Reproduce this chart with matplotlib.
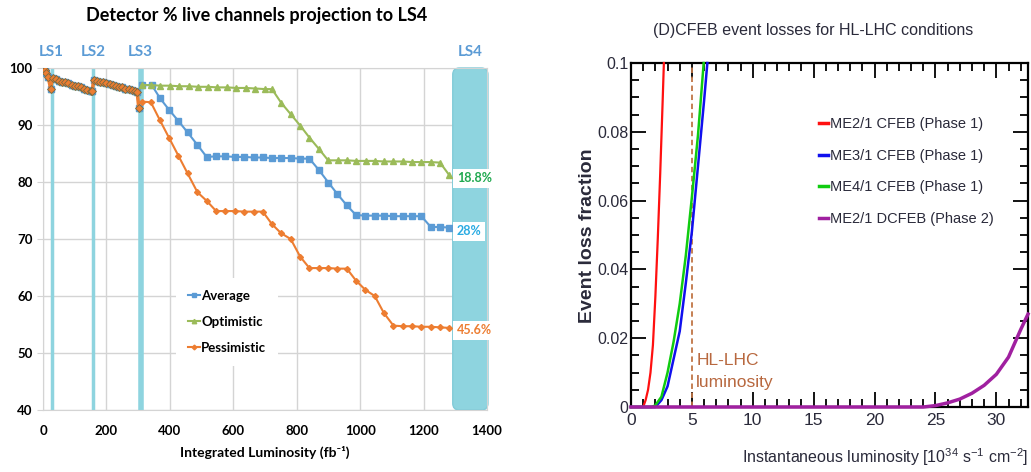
import numpy as np
import matplotlib
matplotlib.use('Agg')
from matplotlib import pyplot as plt
from matplotlib.lines import Line2D
from matplotlib.patches import FancyBboxPatch

plt.rcParams['font.family'] = ['Lato', 'DejaVu Sans']
plt.rcParams['mathtext.fontset'] = 'custom'
plt.rcParams['mathtext.rm'] = 'Liberation Sans'
plt.rcParams['mathtext.it'] = 'Liberation Sans'
narrow = ['DejaVu Sans Condensed', 'Liberation Sans', 'DejaVu Sans']

# ---- left panel: % live channels vs integrated luminosity ----
# shared history up to LS3 (all three projections identical)
pre_x = [0, 5, 10, 16, 24, 30, 40, 50, 60, 70, 80, 90, 100, 110, 120, 130, 140, 150, 155,
         160, 170, 180, 190, 200, 210, 220, 230, 240, 250, 260, 270, 280, 290, 297, 302]
pre_y = [100, 99.6, 99.1, 98.5, 96.4, 98.2, 98.0, 97.8, 97.6, 97.5, 97.3, 97.1, 96.9, 96.8, 96.6, 96.4, 96.2, 96.0, 95.9,
         97.9, 97.8, 97.6, 97.5, 97.3, 97.2, 97.0, 96.9, 96.7, 96.6, 96.4, 96.3, 96.1, 95.9, 95.8, 93.0]

avg_x = [311, 343, 369, 397, 427, 456, 487, 516, 546, 575, 606, 635, 664, 693, 722, 751, 781, 811, 840,
         870, 900, 928, 958, 987, 1016, 1046, 1075, 1105, 1134, 1164, 1193, 1223, 1252, 1281]
avg_y = [97.0, 97.0, 94.7, 92.7, 90.7, 88.7, 86.5, 84.4, 84.5, 84.5, 84.4, 84.4, 84.3, 84.3, 84.2, 84.2, 84.2, 84.1, 84.1,
         82.1, 79.9, 77.9, 75.9, 74.2, 74.1, 74.1, 74.1, 74.0, 74.0, 74.0, 74.0, 72.1, 72.1, 72.0]

opt_x = [311, 340, 370, 400, 430, 460, 490, 520, 550, 580, 610, 640, 670, 700, 722, 751, 781, 811, 840,
         870, 899, 930, 959, 988, 1017, 1046, 1075, 1105, 1134, 1163, 1193, 1222, 1252, 1281]
opt_y = [97.0, 97.0, 96.9, 96.9, 96.8, 96.8, 96.7, 96.7, 96.6, 96.6, 96.5, 96.5, 96.4, 96.3, 96.3, 93.9, 91.9, 89.9, 87.8,
         85.8, 83.8, 83.8, 83.8, 83.7, 83.7, 83.7, 83.6, 83.6, 83.6, 83.5, 83.5, 83.5, 83.4, 81.2]

pes_x = [311, 340, 369, 397, 427, 456, 487, 516, 546, 575, 606, 635, 664, 693, 722, 751, 781, 811, 840,
         870, 900, 928, 958, 987, 1016, 1046, 1075, 1105, 1134, 1164, 1193, 1223, 1252, 1281]
pes_y = [94.1, 94.0, 90.8, 87.8, 84.6, 81.5, 78.2, 76.7, 74.9, 74.9, 74.9, 74.8, 74.8, 74.8, 72.6, 71.0, 70.0, 66.9, 64.9,
         64.9, 64.9, 64.8, 64.8, 62.7, 61.1, 60.0, 57.0, 54.8, 54.7, 54.7, 54.6, 54.6, 54.5, 54.4]

ls_pos = [27, 158, 308]
ls_names = ['LS1', 'LS2', 'LS3']
ls4_range = [1292, 1403]
loss_labels = ['18.8%', '28%', '45.6%']
loss_label_y = [80.7, 71.4, 54.0]

# ---- right panel: event loss fraction vs instantaneous luminosity ----
red_x = [0, 1.0, 1.2, 1.4, 1.6, 1.8, 2.0, 2.2, 2.4, 2.6, 2.7]
red_y = [0, 0, 0.002, 0.005, 0.010, 0.018, 0.032, 0.049, 0.068, 0.089, 0.1]
blue_x = [0, 2.0, 2.5, 3.0, 3.5, 4.0, 4.5, 5.0, 5.5, 6.0, 6.27]
blue_y = [0, 0, 0.002, 0.006, 0.014, 0.022, 0.036, 0.051, 0.070, 0.089, 0.1]
green_x = [0, 1.7, 2.0, 2.5, 3.0, 3.5, 4.0, 4.5, 5.0, 5.5, 5.97]
green_y = [0, 0, 0.0005, 0.003, 0.010, 0.019, 0.030, 0.044, 0.061, 0.079, 0.1]
purple_x = [0, 24, 25, 26, 27, 28, 29, 30, 31, 32, 32.6]
purple_y = [0, 0, 0.0004, 0.0012, 0.0023, 0.0040, 0.0063, 0.0095, 0.0145, 0.0225, 0.027]
hl_lumi = 5

fig = plt.figure(figsize=(10.31, 4.72), dpi=100)

# ================= left =================
ax = fig.add_axes([43/1031, 62/472, 444/1031, 342/472])
ax.set_xlim(0, 1400)
ax.set_ylim(40, 100)
ax.set_xticks(np.arange(0, 1401, 200))
ax.set_yticks(np.arange(40, 101, 10))
ax.grid(True, color='#d4d4d4', lw=1)
ax.set_axisbelow(True)
for s in ax.spines.values():
    s.set_color('#d4d4d4')
ax.tick_params(axis='both', colors='#d4d4d4', labelcolor='black', labelsize=9.5, length=4)
ax.tick_params(axis='x', length=0, pad=11)
for lab in ax.get_xticklabels() + ax.get_yticklabels():
    lab.set_fontweight('bold')

cyan = '#8ed4df'
for i, xp in enumerate(ls_pos):
    ax.axvline(xp, color=cyan, lw=2.5 if i < 2 else 4, zorder=2)
    ax.text(xp, 101.6, ls_names[i], color='#5b9bd5', fontsize=11, fontweight='bold',
            ha='center', va='bottom')
x0 = (ls4_range[0]) / 1400
w4 = (ls4_range[1] - ls4_range[0]) / 1400
ax.add_patch(FancyBboxPatch((x0, 0), w4, 1.0, boxstyle='round,pad=0,rounding_size=0.015',
                            mutation_aspect=1.3, transform=ax.transAxes, clip_on=False,
                            fc=cyan, ec='#82cbd8', lw=1, zorder=2))
ax.text((ls4_range[0] + ls4_range[1]) / 2, 101.6, 'LS4', color='#5b9bd5', fontsize=11,
        fontweight='bold', ha='center', va='bottom')

blue, green, orange = '#5b9bd5', '#9bbb59', '#ed7d31'
ax.plot(pre_x, pre_y, color=green, lw=1.5, marker='^', ms=4, zorder=3)
ax.plot(pre_x, pre_y, color=blue, lw=1.5, marker='s', ms=4, zorder=3)
ax.plot(pre_x, pre_y, color=orange, lw=2.5, marker='D', ms=4, mec='#7a6a40', mew=0.6, zorder=4)
l1, = ax.plot(avg_x, avg_y, color=blue, lw=1.5, marker='s', ms=4, zorder=3)
l2, = ax.plot(opt_x, opt_y, color=green, lw=1.5, marker='^', ms=4, zorder=3)
l3, = ax.plot(pes_x, pes_y, color=orange, lw=1.5, marker='D', ms=3, zorder=3)

lab_cols = ['#1fa84f', '#29abe2', orange]
for t, yv, c in zip(loss_labels, loss_label_y, lab_cols):
    ax.text(1305, yv, t, color=c, fontsize=9, fontweight='bold', va='center', ha='left',
            bbox=dict(fc='white', ec='none', pad=2.5), zorder=5)

leg = ax.legend([l1, l2, l3], ['Average', 'Optimistic', 'Pessimistic'], loc='upper left',
                bbox_to_anchor=(0.285, 0.405), frameon=True, fancybox=False, handlelength=0.9,
                handletextpad=0.1, labelspacing=1.05, borderpad=0.9, markerscale=0.8,
                prop={'weight': 'bold', 'size': 9.5})
leg.get_frame().set_edgecolor('none')
leg.get_frame().set_facecolor('white')
leg.get_frame().set_alpha(1)

ax.set_xlabel('Integrated Luminosity (fb⁻¹)', fontsize=10, fontweight='bold', labelpad=6)
fig.text(257/1031, 1 - 16/472, 'Detector % live channels projection to LS4', fontsize=13,
         fontweight='bold', ha='center', va='center')

# ================= right =================
ink = '#2a2a3a'
bx = fig.add_axes([631/1031, 65/472, 397/1031, 344/472])
bx.set_xlim(0, 32.6)
bx.set_ylim(0, 0.1)
bx.plot(red_x, red_y, color='#ff1010', lw=1.6, clip_on=False, zorder=3)
bx.plot(blue_x, blue_y, color='#1010ee', lw=1.8, clip_on=False, zorder=3)
bx.plot(green_x, green_y, color='#10cc10', lw=1.8, clip_on=False, zorder=3)
bx.plot(purple_x, purple_y, color='#a020a0', lw=2.5, clip_on=False, zorder=3)
bx.plot([hl_lumi, hl_lumi], [0, 0.1], color='#c07545', lw=1.3, ls=(0, (3, 2)), zorder=2)
bx.text(hl_lumi + 0.35, 0.0048, 'HL-LHC\nluminosity', color='#b8683f', fontsize=12.5,
        family=narrow, ha='left', va='bottom', linespacing=1.6)

bx.set_xticks(np.arange(0, 31, 5))
bx.set_xticks(np.arange(0, 33, 1), minor=True)
bx.set_yticks([0, 0.02, 0.04, 0.06, 0.08, 0.1])
bx.set_yticklabels(['0', '0.02', '0.04', '0.06', '0.08', '0.1'])
bx.set_yticks(np.arange(0, 0.1001, 0.005), minor=True)
bx.tick_params(which='both', direction='in', top=True, right=True, width=1.3, colors='black')
bx.tick_params(which='major', length=11, labelsize=11.5, pad=2)
bx.tick_params(which='minor', length=6)
bx.tick_params(axis='x', pad=4, labelsize=12.5)
for lab in bx.get_xticklabels() + bx.get_yticklabels():
    lab.set_family(narrow)
    lab.set_color(ink)
for s in bx.spines.values():
    s.set_linewidth(1.6)

hs = [Line2D([], [], color=c, lw=2.5) for c in ['#ff1010', '#1010ee', '#10cc10', '#a020a0']]
lg = bx.legend(hs, ['ME2/1 CFEB (Phase 1)', 'ME3/1 CFEB (Phase 1)', 'ME4/1 CFEB (Phase 1)',
                    'ME2/1 DCFEB (Phase 2)'], loc='upper left', bbox_to_anchor=(0.44, 0.88),
               frameon=False, handlelength=0.6, handletextpad=0.15, labelspacing=1.2,
               prop={'family': narrow, 'size': 10.5})
for t in lg.get_texts():
    t.set_color(ink)

fig.text(813/1031, 1 - 30/472, '(D)CFEB event losses for HL-LHC conditions', fontsize=11.5,
         family=narrow, color=ink, ha='center', va='center')
fig.text(588/1031, 1 - 236/472, 'Event loss fraction', fontsize=14, family=narrow,
         color=ink, rotation=90, ha='center', va='center', fontweight='bold')
fig.text(1028/1031, 1 - 457/472, r'Instantaneous luminosity [10$^{34}$ s$^{-1}$ cm$^{-2}$]',
         fontsize=11.5, family=narrow, color=ink, ha='right', va='center')

plt.savefig('out.png', dpi=100)
